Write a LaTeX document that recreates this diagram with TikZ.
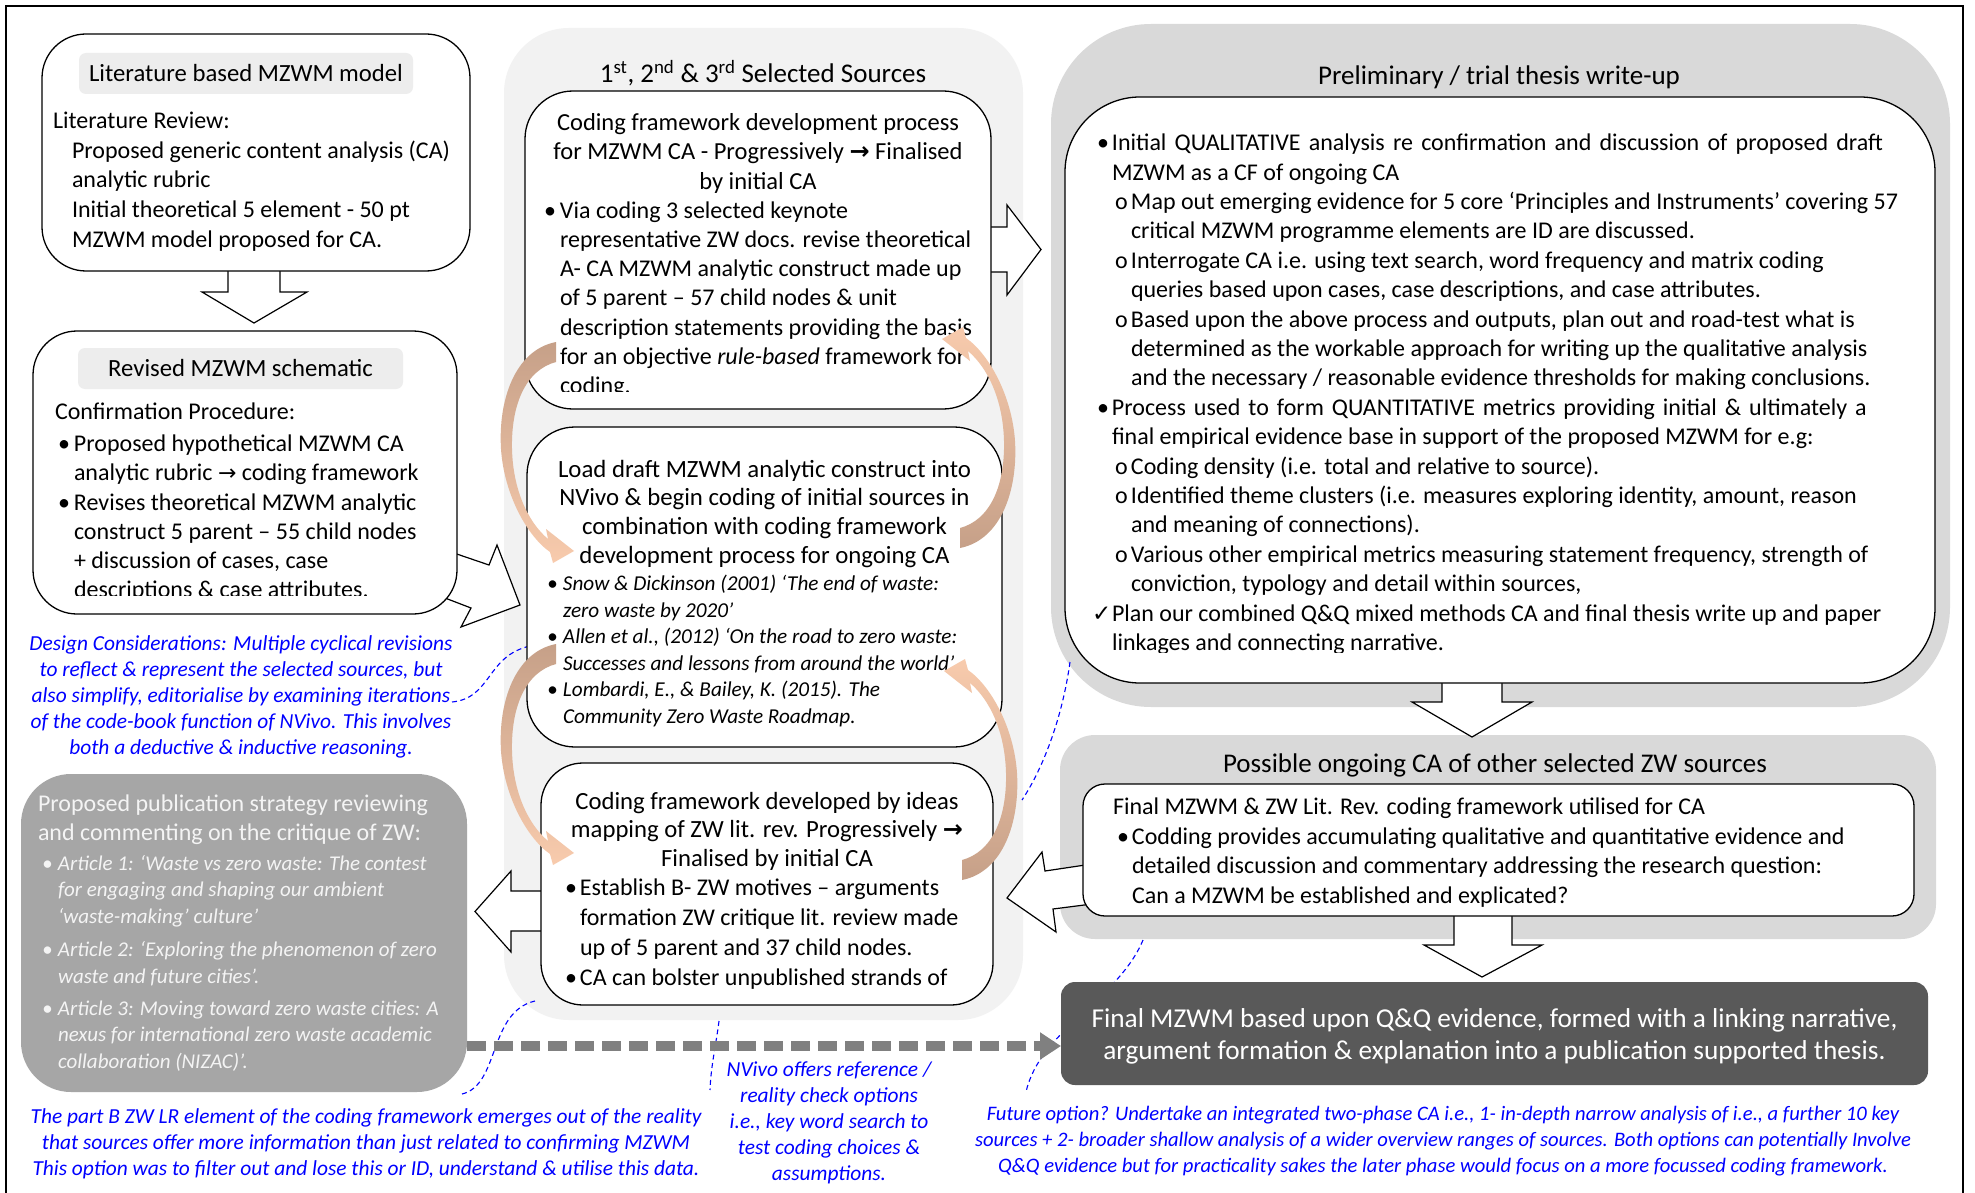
\documentclass[tikz,border=0pt]{standalone}
\usepackage{fontspec}
\setmainfont{Carlito}
\newfontfamily\symf{DejaVu Sans}
\usetikzlibrary{arrows.meta}

\definecolor{colgrey}{HTML}{F2F2F2}
\definecolor{panelgrey}{HTML}{D9D9D9}
\definecolor{tabgrey}{HTML}{EDEDED}
\definecolor{pubgrey}{HTML}{A6A6A6}
\definecolor{pubtext}{HTML}{F4F4F4}
\definecolor{finalgrey}{HTML}{595959}
\definecolor{dashgrey}{HTML}{808080}
\definecolor{noteblue}{HTML}{0000FF}
\definecolor{tanc}{HTML}{C6A088}
\definecolor{peachc}{HTML}{F8CBAD}

\newcommand\fsz[2]{\fontsize{#1}{#2}\selectfont}
% bullets and indents
\newcommand\bul{\makebox[16pt][l]{\textbullet}}
\newcommand\rb{\makebox[15pt][l]{\textbullet}}
\newcommand\ro{\hspace*{18pt}\makebox[16pt][l]{o}}
\newcommand\rc{\hspace*{15pt}}
\newcommand\rsc{\hspace*{34pt}}
\newcommand\rck{\hspace*{-5pt}\makebox[20pt][l]{{\symf\fsz{23}{23}✓}}}
\newcommand\thinarrow{{\symf\fsz{22}{22}→}}
\newcommand\boldarrow{{\symf\bfseries\fsz{24}{24}→}}

% curved gradient arrow: #1,#2 offset, #3 sign (1 or -1), #4 top colour, #5 bottom colour
\newcommand\cvarrow[5]{%
  \shade[top color=#4, bottom color=#5]
  ({#1+(#3)*556},{#2+(#3)*342}) .. controls ({#1+(#3)*515},{#2+(#3)*350}) and ({#1+(#3)*498},{#2+(#3)*400}) .. ({#1+(#3)*501},{#2+(#3)*449})
  .. controls ({#1+(#3)*504},{#2+(#3)*494}) and ({#1+(#3)*527},{#2+(#3)*536}) .. ({#1+(#3)*550},{#2+(#3)*552})
  -- ({#1+(#3)*553},{#2+(#3)*563}) -- ({#1+(#3)*574},{#2+(#3)*551}) -- ({#1+(#3)*546},{#2+(#3)*529}) -- ({#1+(#3)*548},{#2+(#3)*539})
  .. controls ({#1+(#3)*528},{#2+(#3)*522}) and ({#1+(#3)*513},{#2+(#3)*490}) .. ({#1+(#3)*512},{#2+(#3)*449})
  .. controls ({#1+(#3)*511},{#2+(#3)*404}) and ({#1+(#3)*526},{#2+(#3)*370}) .. ({#1+(#3)*556},{#2+(#3)*362}) -- cycle;}

\begin{document}
\begin{tikzpicture}[x=1pt,y=-1pt,
  box/.style={draw=black, line width=1.3pt, fill=white, inner sep=0pt, outer sep=0pt},
  panel/.style={inner sep=0pt, outer sep=0pt},
  tab/.style={fill=tabgrey, rounded corners=7pt, inner sep=0pt, font=\fsz{24.7}{29.5}},
  blockarrow/.style={draw=black, line width=1.2pt, fill=white, line join=miter},
  body/.style={inner sep=0pt, outer sep=0pt, anchor=north west, align=left, execute at begin node=\strut},
  bodyc/.style={inner sep=0pt, outer sep=0pt, anchor=north, align=center, execute at begin node=\strut},
  ttl/.style={inner sep=0pt, outer sep=0pt, anchor=base, font=\fsz{27}{32}},
  note/.style={inner sep=0pt, outer sep=0pt, anchor=north, align=center, text=noteblue,
    font=\itshape\fsz{21.4}{26}, execute at begin node=\strut},
  bluedash/.style={draw=noteblue, line width=1.1pt, dash pattern=on 5pt off 3.5pt},
]
\useasboundingbox (0,0) rectangle (1975,1193);
\fill[white] (0,0) rectangle (1975,1193);

% outer frame
\draw[line width=2.5pt] (6,1210) -- (6,6) -- (1963,6) -- (1963,1210);

% ---------- background panels ----------
\node[panel, fill=colgrey, rounded corners=65pt, minimum width=519pt, minimum height=992pt] (midcol) at (763.5,524) {};
\node[panel, fill=panelgrey, rounded corners=100pt, minimum width=899pt, minimum height=683pt] (prelim) at (1500.5,365.5) {};
\node[panel, fill=panelgrey, rounded corners=35pt, minimum width=876pt, minimum height=204pt] (possible) at (1498,837) {};

% ---------- annotation connectors (dashed blue) ----------
\coordinate (n1a) at (452,702);
\coordinate (n1b) at (530,646);
\draw[bluedash] (n1a) .. controls (492,698) and (486,656) .. (n1b);
\coordinate (n2a) at (462,1094);
\coordinate (n2b) at (535,1001);
\draw[bluedash] (n2a) .. controls (500,1085) and (488,1012) .. (n2b);
\coordinate (n3a) at (719,1021);
\coordinate (n3b) at (710,1090);
\draw[bluedash] (n3a) .. controls (716,1045) and (711,1065) .. (n3b);
\coordinate (n4a) at (1070,662);
\coordinate (n4b) at (1022,800);
\draw[bluedash] (n4a) .. controls (1062,720) and (1042,770) .. (n4b);
\coordinate (n5a) at (1143,940);
\coordinate (n5b) at (1026,1092);
\draw[bluedash] (n5a) .. controls (1118,1000) and (1040,1030) .. (n5b);

% ---------- block arrows ----------
\draw[blockarrow] (228,262) -- (228,292) -- (202,292) -- (254,323) -- (307,292) -- (280,292) -- (280,262) -- cycle;
\draw[blockarrow] (445,550) -- (489,565) -- (497,545) -- (520,605) -- (461,627) -- (471,608) -- (445,598) -- cycle;
\draw[blockarrow] (983,227) -- (1007,227) -- (1007,205) -- (1041,249.5) -- (1007,295) -- (1007,272) -- (983,272) -- cycle;
\draw[blockarrow] (549,891) -- (511,891) -- (511,871) -- (475,911.5) -- (511,952) -- (511,931) -- (549,931) -- cycle;
\draw[blockarrow] (1092,864) -- (1045,871) -- (1042,852) -- (1007,898) -- (1056,932) -- (1053,909) -- (1092,904) -- cycle;
\draw[blockarrow] (1442,676) -- (1442,702) -- (1412,702) -- (1472,737) -- (1532,702) -- (1502,702) -- (1502,676) -- cycle;
\draw[blockarrow] (1454,908) -- (1454,945) -- (1424,945) -- (1482,977) -- (1542,945) -- (1512,945) -- (1512,908) -- cycle;

% ---------- left column ----------
\node[box, rounded corners=44pt, minimum width=428pt, minimum height=237pt] (litbox) at (256,152.5) {};
\node[tab, minimum width=334pt, minimum height=41pt] (littab) at (246,73.5) {Literature based MZWM model};
\node[body, font=\fsz{24}{29.7}] (littext) at (53,112) {Literature Review:\\
\hspace*{19pt}Proposed generic content analysis (CA)\\
\hspace*{19pt}analytic rubric\\
\hspace*{19pt}Initial theoretical 5 element - 50 pt\\
\hspace*{19pt}MZWM model proposed for CA.};

\node[box, rounded corners=44pt, minimum width=424pt, minimum height=283pt] (revbox) at (245,472.5) {};
\node[tab, minimum width=325pt, minimum height=41pt] (revtab) at (240.5,368.5) {Revised MZWM schematic};
\begin{scope}
\clip (33,331) rectangle (457,595);
\node[body, font=\fsz{24}{29.3}] (revtext) at (55,403) {Confirmation Procedure:\\[2.5pt]
\hspace*{3pt}\bul Proposed hypothetical MZWM CA\\
\hspace*{19pt}analytic rubric \thinarrow{} coding framework\\
\hspace*{3pt}\bul Revises theoretical MZWM analytic\\
\hspace*{19pt}construct 5 parent – 55 child nodes\\
\hspace*{19pt}+ discussion of cases, case\\
\hspace*{19pt}descriptions \& case attributes.};
\end{scope}

\node[note] (design) at (241,636) {Design Considerations: Multiple cyclical revisions\\
to reflect \& represent the selected sources, but\\
also simplify, editorialise by examining iterations\\
of the code-book function of NVivo. This involves\\
both a deductive \& inductive reasoning.};

\node[panel, fill=pubgrey, rounded corners=50pt, minimum width=446pt, minimum height=318pt] (pubbox) at (244,933) {};
\node[body, text=pubtext, font=\fsz{24}{29}] (pubtitle) at (38,795) {Proposed publication strategy reviewing\\
and commenting on the critique of ZW:};
\node[body, text=pubtext, font=\itshape\fsz{21}{26.5}] (publist) at (42,855) {\bul Article 1: ‘Waste vs zero waste: The contest\\
\hspace*{16pt}for engaging and shaping our ambient\\
\hspace*{16pt}‘waste-making’ culture’\\[7pt]
\bul Article 2: ‘Exploring the phenomenon of zero\\
\hspace*{16pt}waste and future cities’.\\[5.5pt]
\bul Article 3: Moving toward zero waste cities: A\\
\hspace*{16pt}nexus for international zero waste academic\\
\hspace*{16pt}collaboration (NIZAC)’.};

% ---------- middle column ----------
\node[ttl] (midtitle) at (763,82.6) {1\textsuperscript{st}, 2\textsuperscript{nd} \& 3\textsuperscript{rd} Selected Sources};

\node[box, rounded corners=48pt, minimum width=466pt, minimum height=318pt] (dev) at (758,250) {};
\node[bodyc, font=\fsz{24.5}{29.3}] (devhead) at (758,113.5) {Coding framework development process\\
for MZWM CA - Progressively \boldarrow{} Finalised\\
by initial CA};
\begin{scope}
\clip (525,91) rectangle (991,391);
\node[body, font=\fsz{24}{29.1}] (devlist) at (544,202) {\bul Via coding 3 selected keynote\\
\hspace*{16pt}representative ZW docs. revise theoretical\\
\hspace*{16pt}A- CA MZWM analytic construct made up\\
\hspace*{16pt}of 5 parent – 57 child nodes \& unit\\
\hspace*{16pt}description statements providing the basis\\
\hspace*{16pt}for an objective \textit{rule-based} framework for\\
\hspace*{16pt}coding.};
\end{scope}

\node[box, rounded corners=48pt, minimum width=475pt, minimum height=320pt] (load) at (764.5,587) {};
\node[bodyc, font=\fsz{24.8}{28.7}] (loadhead) at (764.5,460) {Load draft MZWM analytic construct into\\
NVivo \& begin coding of initial sources in\\
combination with coding framework\\
development process for ongoing CA};
\node[body, font=\itshape\fsz{21.2}{26.6}] (loadlist) at (547,575) {\bul Snow \& Dickinson (2001) ‘The end of waste:\\
\hspace*{16pt}zero waste by 2020’\\
\bul Allen et al., (2012) ‘On the road to zero waste:\\
\hspace*{16pt}Successes and lessons from around the world’\\
\bul Lombardi, E., \& Bailey, K. (2015). The\\
\hspace*{16pt}Community Zero Waste Roadmap.};

\node[box, rounded corners=42pt, minimum width=452pt, minimum height=242pt] (ideas) at (767,884) {};
\node[bodyc, font=\fsz{24.7}{28.5}] (ideashead) at (767,792) {Coding framework developed by ideas\\
mapping of ZW lit. rev. Progressively \boldarrow\\
Finalised by initial CA};
\node[body, font=\fsz{24}{30}] (ideaslist) at (565,878.5) {\makebox[15pt][l]{\textbullet}Establish B- ZW motives – arguments\\
\hspace*{15pt}formation ZW critique lit. review made\\
\hspace*{15pt}up of 5 parent and 37 child nodes.\\
\makebox[15pt][l]{\textbullet}CA can bolster unpublished strands of};

% cyclical revision arrows
\cvarrow{0}{0}{1}{tanc}{peachc}
\cvarrow{1516}{890}{-1}{peachc}{tanc}
\cvarrow{0}{302}{1}{tanc}{peachc}
\cvarrow{1518}{1222}{-1}{peachc}{tanc}

% ---------- right column ----------
\node[ttl] (prelimtitle) at (1499,84.6) {Preliminary / trial thesis write-up};
\node[box, rounded corners=75pt, minimum width=870pt, minimum height=586pt] (trial) at (1500,390) {};
\begin{scope}
\clip (1065,97) rectangle (1935,652);
\node[body, font=\fsz{24}{29.4}] (trialtext) at (1097,134) {\rb{\spaceskip=8.2pt Initial QUALITATIVE analysis re confirmation and discussion of proposed draft}\\
\rc MZWM as a CF of ongoing CA\\
\ro Map out emerging evidence for 5 core ‘Principles and Instruments’ covering 57\\
\rsc critical MZWM programme elements are ID are discussed.\\
\ro Interrogate CA i.e. using text search, word frequency and matrix coding\\
\rsc queries based upon cases, case descriptions, and case attributes.\\
\ro Based upon the above process and outputs, plan out and road-test what is\\
\rsc determined as the workable approach for writing up the qualitative analysis\\
\rsc and the necessary / reasonable evidence thresholds for making conclusions.\\
\rb{\spaceskip=8pt Process used to form QUANTITATIVE metrics providing initial \& ultimately a}\\
\rc final empirical evidence base in support of the proposed MZWM for e.g:\\
\ro Coding density (i.e. total and relative to source).\\
\ro Identified theme clusters (i.e. measures exploring identity, amount, reason\\
\rsc and meaning of connections).\\
\ro Various other empirical metrics measuring statement frequency, strength of\\
\rsc conviction, typology and detail within sources,\\
\rck Plan our combined Q\&Q mixed methods CA and final thesis write up and paper\\
\rc linkages and connecting narrative.};
\end{scope}

\node[ttl] (possibletitle) at (1495,772.6) {Possible ongoing CA of other selected ZW sources};
\node[box, rounded corners=22pt, minimum width=831pt, minimum height=132pt] (finalcf) at (1498.5,850) {};
\node[body, font=\fsz{24}{29.6}] (finalcftext) at (1113,798) {Final MZWM \& ZW Lit. Rev. coding framework utilised for CA\\
\hspace*{4pt}\rb Codding provides accumulating qualitative and quantitative evidence and\\
\hspace*{19pt}detailed discussion and commentary addressing the research question:\\
\hspace*{19pt}Can a MZWM be established and explicated?};

\node[panel, fill=finalgrey, rounded corners=14pt, minimum width=867pt, minimum height=103pt] (final) at (1494.5,1033.5) {};
\node[bodyc, text=white, font=\fsz{27.3}{32}] (finaltext) at (1494.5,1008.5) {Final MZWM based upon Q\&Q evidence, formed with a linking narrative,\\
argument formation \& explanation into a publication supported thesis.};

% ---------- dashed grey link from publication strategy to final thesis ----------
\coordinate (dashy) at (0,1046);
\draw[dashgrey, line width=10pt, dash pattern=on 19pt off 8pt, -{Triangle[length=21pt,width=26pt]}]
  (pubbox.east |- dashy) -- (final.west |- dashy);

% ---------- bottom annotations ----------
\node[note] (partb) at (366,1108.5) {The part B ZW LR element of the coding framework emerges out of the reality\\
that sources offer more information than just related to confirming MZWM\\
This option was to filter out and lose this or ID, understand \& utilise this data.};
\node[note] (nvivo) at (829,1062) {NVivo offers reference /\\
reality check options\\
i.e., key word search to\\
test coding choices \&\\
assumptions.};
\node[note, font=\itshape\fsz{20.6}{26}] (future) at (1443,1106.4) {Future option? Undertake an integrated two-phase CA i.e., 1- in-depth narrow analysis of i.e., a further 10 key\\
sources + 2- broader shallow analysis of a wider overview ranges of sources. Both options can potentially Involve\\
Q\&Q evidence but for practicality sakes the later phase would focus on a more focussed coding framework.};
\end{tikzpicture}
\end{document}
